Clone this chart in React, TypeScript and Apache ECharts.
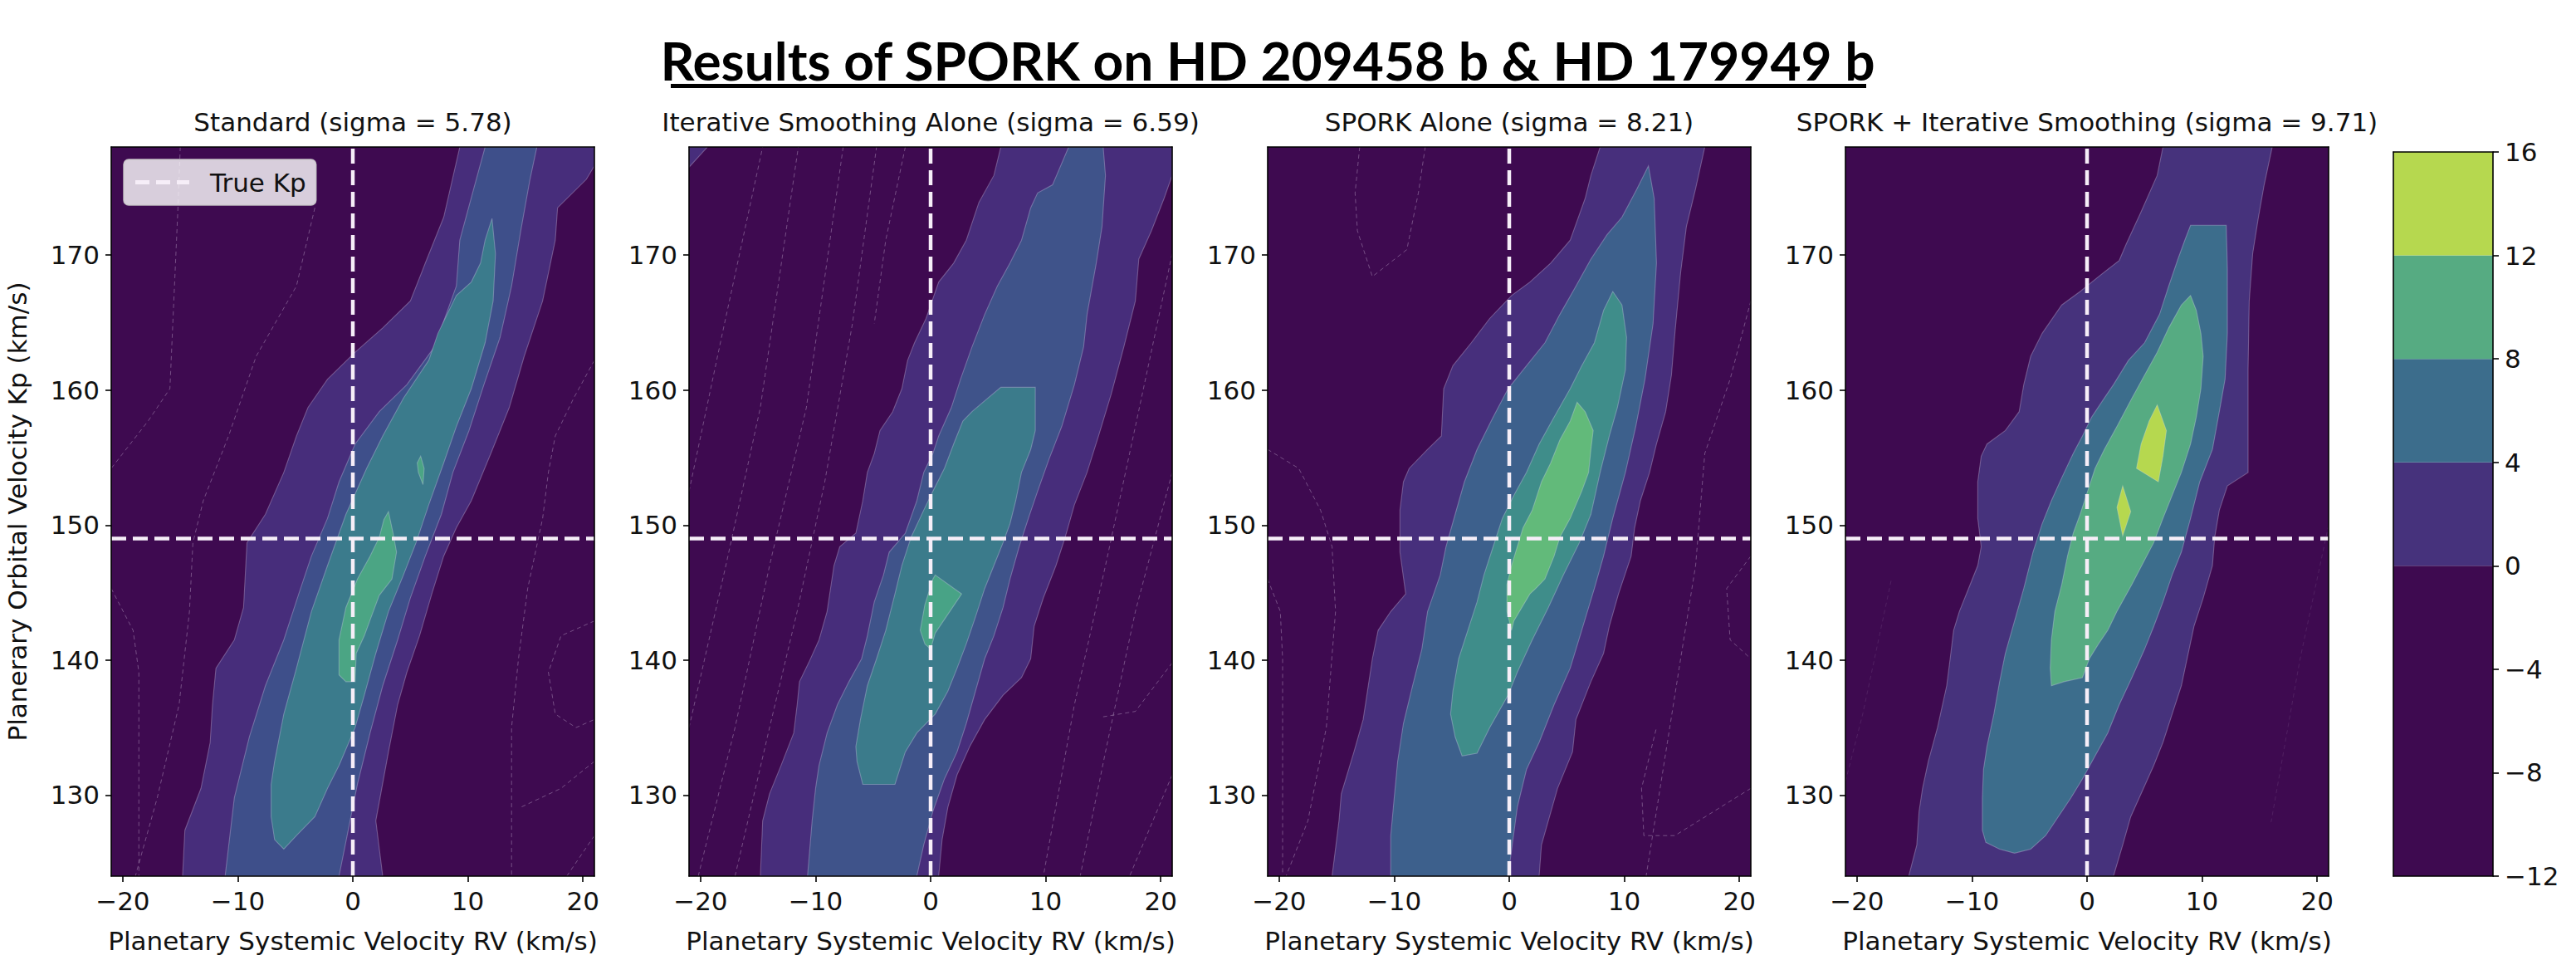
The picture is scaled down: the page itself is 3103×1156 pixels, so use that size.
import React, { useEffect, useRef } from "react";
import * as echarts from "echarts";

// ---------- axes / reference values ----------
const rvRange = [-21, 21];
const kpRange = [124, 178];
const rvTicks = [-20, -10, 0, 10, 20];
const kpTicks = [130, 140, 150, 160, 170];
const trueRV = 0;
const trueKp = 149;
const colorbarLevels = [-12, 0, 4, 8, 12, 16];
const colorbarTicks = [-12, -8, -4, 0, 4, 8, 12, 16];

const mainTitle = "Results of SPORK on HD 209458 b & HD 179949 b";
const panelTitles = [
  "Standard (sigma = 5.78)",
  "Iterative Smoothing Alone (sigma = 6.59)",
  "SPORK Alone (sigma = 8.21)",
  "SPORK + Iterative Smoothing (sigma = 9.71)",
];
const xName = "Planetary Systemic Velocity RV (km/s)";
const yName = "Planerary Orbital Velocity Kp (km/s)";

// ---------- contour regions [RV, Kp] ----------
// Panel 1: Standard
const stdBand0 = [[9.3,178],[7.9,172.8],[6.3,169.4],[5.0,166.6],[2.6,164.6],[0.2,162.8],[-2.2,160.8],[-3.9,158.7],[-4.9,156.6],[-6.0,153.9],[-7.6,150.8],[-9.2,148.7],[-9.5,143.9],[-10.3,141.5],[-11.9,139.4],[-12.2,136.7],[-12.4,133.9],[-13.2,130.5],[-14.6,127.4],[-14.8,124],[2.6,124],[2.0,128.1],[3.1,133.2],[3.9,136.7],[4.7,139.1],[5.8,141.8],[6.9,145.0],[7.9,147.7],[9.0,149.8],[10.3,151.8],[12.0,155.3],[13.6,158.7],[14.9,162.5],[16.5,166.6],[17.6,171.1],[17.8,173.5],[20.3,175.6],[21,176.6],[21,178]];
const stdBand1 = [[11.5,178],[10.6,175.2],[9.3,171.1],[9.0,167.7],[7.1,163.2],[4.7,160.4],[2.3,158.4],[0.2,156.0],[-1.2,153.2],[-2.2,150.5],[-3.6,147.7],[-4.7,144.9],[-6.0,141.5],[-7.6,138.1],[-9.0,134.3],[-10.3,129.8],[-11.1,124],[-1.2,124],[-0.4,127.4],[0.4,130.8],[1.5,134.6],[2.6,138.1],[3.9,141.5],[5.0,144.6],[6.3,147.7],[7.7,150.8],[8.7,153.9],[10.1,157.0],[11.4,160.4],[12.8,163.9],[13.8,167.7],[14.6,171.8],[15.4,175.6],[16.0,178]];
const stdBand2 = [[12.1,172.7],[12.4,170.1],[12.2,166.6],[11.5,163.5],[10.3,160.1],[9.0,157.3],[7.9,154.6],[6.6,151.5],[5.5,148.7],[4.4,146.3],[3.1,143.6],[2.0,140.5],[1.0,137.4],[0.2,135.0],[-1.2,132.2],[-2.2,130.5],[-3.3,128.4],[-4.9,127.0],[-6.0,126.0],[-6.8,126.7],[-7.1,128.4],[-7.1,130.8],[-6.8,132.5],[-6.0,136.0],[-4.9,139.4],[-3.6,143.6],[-2.2,147.0],[-0.6,150.8],[1.2,154.2],[2.6,156.6],[4.4,159.4],[6.6,162.2],[7.4,164.2],[9.0,167.0],[10.3,168.0],[11.1,169.4],[11.5,171.1]];
const stdBand3a = [[5.9,155.1],[6.2,154.2],[6.1,153.0],[5.7,153.9],[5.6,154.6]];
const stdBand3b = [[3.1,151.0],[3.5,149.4],[3.8,148.0],[3.4,146.0],[2.3,144.8],[1.6,143.2],[1.0,141.8],[0.3,140.5],[0.2,138.4],[-0.6,138.4],[-1.2,138.9],[-1.2,141.5],[-0.6,143.9],[0.4,146.0],[1.5,147.7],[2.3,149.1],[2.7,150.4]];
const stdNegLines = [
  [[-15.0,178],[-15.2,173.5],[-15.9,160.1],[-17.8,157.7],[-21,154.2]],
  [[-3.3,173.5],[-4.9,167.7],[-8.4,162.5],[-10.8,156.6],[-13.0,151.8],[-13.9,148.7],[-14.2,143.6],[-15.1,136.7],[-17.0,129.8],[-18.9,124]],
  [[-21,145.3],[-19.1,142.2],[-18.6,139.1],[-18.6,124]],
  [[21,162.2],[19.2,159.4],[17.6,156.6],[17.0,153.9],[16.5,150.5],[15.2,145.3],[14.4,140.1],[13.8,135.0],[13.8,124]],
  [[21,142.9],[18.1,141.8],[17.0,139.1],[17.6,136.0],[19.4,135.0],[21,135.6]],
  [[21,132.5],[18.1,130.5],[14.6,129.1]],
  [[21,127.0],[18.6,124]],
];

// Panel 2: Iterative Smoothing Alone
const iterBand0Corner = [[-21,178],[-19.4,178],[-21,176.5]];
const iterBand0 = [[6.1,178],[5.5,175.9],[4.2,173.9],[3.1,171.1],[2.0,169.4],[0.7,168.0],[-0.4,165.3],[-1.4,163.5],[-2.0,162.2],[-2.5,160.1],[-3.3,158.4],[-4.4,157.0],[-4.9,155.3],[-5.5,153.9],[-5.9,151.8],[-6.5,149.4],[-7.9,148.4],[-8.4,147.0],[-9.0,143.6],[-9.7,141.5],[-10.6,139.8],[-11.4,138.4],[-11.6,136.7],[-11.9,134.6],[-13.0,132.2],[-14.0,130.1],[-14.6,128.1],[-14.8,124],[0.7,124],[1.0,126.7],[1.5,129.1],[2.3,131.5],[3.4,133.6],[4.7,135.6],[6.3,137.4],[7.9,138.7],[8.7,140.1],[9.0,142.5],[9.8,144.6],[10.9,147.0],[11.7,149.1],[12.5,151.5],[13.6,153.9],[14.6,156.6],[15.7,159.7],[16.8,163.2],[17.8,166.6],[18.1,169.7],[19.2,171.8],[20.3,174.2],[21,175.9],[21,178]];
const iterBand1 = [[12.0,178],[10.6,175.2],[9.3,174.6],[8.7,173.5],[7.9,171.1],[6.9,169.4],[5.8,167.7],[4.7,165.6],[3.6,163.2],[2.6,160.8],[1.8,158.7],[0.7,156.6],[0.2,155.3],[-0.6,153.9],[-1.2,151.8],[-2.2,149.4],[-3.6,148.0],[-4.1,146.3],[-4.9,144.3],[-5.5,141.8],[-6.0,140.1],[-7.1,138.4],[-8.1,136.7],[-9.0,134.6],[-9.7,132.2],[-10.0,130.5],[-10.3,128.1],[-10.7,124],[-1.2,124],[-0.6,126.3],[0.2,128.8],[1.2,131.2],[2.3,133.2],[3.1,135.3],[3.9,137.7],[4.7,140.1],[5.5,141.8],[6.3,143.9],[6.9,146.0],[7.7,148.4],[8.5,150.5],[9.3,152.5],[10.3,154.9],[11.4,157.3],[12.5,160.4],[13.3,163.2],[13.6,165.6],[14.4,169.4],[14.9,172.1],[15.2,175.9],[15.0,178]];
const iterBand2 = [[6.1,160.2],[9.1,160.2],[9.1,157.0],[8.7,155.6],[7.9,153.9],[7.4,151.8],[6.9,150.1],[6.3,148.7],[5.5,147.0],[4.7,145.3],[3.9,143.2],[3.1,141.2],[2.3,139.4],[1.5,137.7],[0.4,136.0],[-1.2,134.6],[-2.2,133.2],[-3.1,130.8],[-5.9,130.8],[-6.4,132.5],[-6.5,133.6],[-6.1,135.6],[-5.5,138.1],[-4.7,140.1],[-3.9,142.2],[-3.1,144.9],[-2.5,147.0],[-1.7,149.1],[-0.6,151.1],[0.2,152.5],[1.2,154.2],[2.0,156.0],[2.8,157.7],[3.6,158.4],[4.7,159.2]];
const iterBand3 = [[0.4,146.3],[2.7,144.9],[0.4,142.0],[0.0,140.8],[-0.5,141.2],[-0.9,142.2],[-0.5,144.1],[0.2,146.0]];
const iterNegLines = [
  [[-21,152.5],[-18.1,164.2],[-14.6,178]],
  [[-21,135.0],[-17.8,147.0],[-14.8,158.7],[-11.5,178]],
  [[-20.2,124],[-17.0,135.0],[-14.0,147.0],[-10.8,158.7],[-7.6,178]],
  [[-17.0,124],[-14.0,135.0],[-11.6,143.6],[-9.2,153.2],[-6.8,164.9],[-4.7,178]],
  [[-2.2,178],[-3.9,171.1],[-4.9,164.9]],
  [[21,170.1],[17.8,157.3],[15.2,147.0],[12.5,136.7],[9.8,124]],
  [[21,153.9],[17.8,143.6],[15.2,133.2],[13.0,124]],
  [[21,139.8],[17.8,136.2],[15.0,135.8]],
  [[21,131.5],[17.3,124]],
];

// Panel 3: SPORK Alone
const sporkBand0 = [[7.9,178],[7.1,175.9],[6.6,174.2],[5.3,171.1],[3.6,169.4],[1.8,168.0],[0.2,167.0],[-1.7,165.3],[-3.3,163.5],[-4.9,161.8],[-5.7,160.1],[-5.9,156.6],[-7.1,155.6],[-8.7,154.2],[-9.2,153.2],[-9.5,151.1],[-9.5,148.0],[-9.0,144.9],[-10.3,143.6],[-11.4,142.2],[-11.9,140.1],[-12.2,138.4],[-12.7,135.6],[-13.5,133.2],[-14.6,130.1],[-14.8,128.1],[-15.4,124],[2.6,124],[2.8,126.3],[4.2,130.5],[5.5,133.2],[5.8,135.6],[7.1,138.4],[8.2,140.5],[8.7,142.5],[9.5,144.9],[10.6,147.7],[10.9,149.8],[11.4,151.8],[12.2,153.9],[12.8,156.0],[13.6,158.4],[14.1,161.1],[14.4,164.2],[14.9,168.7],[15.4,172.1],[16.2,174.9],[17.0,178]];
const sporkBand1 = [[12.1,176.6],[12.6,174.2],[12.8,169.4],[12.5,164.9],[11.8,160.8],[11.0,157.3],[10.1,153.9],[9.0,150.5],[8.2,147.7],[7.4,145.3],[6.3,142.2],[5.3,139.4],[3.9,136.7],[2.6,133.9],[1.5,131.9],[0.7,129.1],[-0.1,124],[-10.3,124],[-10.3,127.0],[-10.0,129.8],[-9.7,132.5],[-9.2,135.3],[-8.4,138.1],[-7.6,140.8],[-7.1,143.6],[-6.0,146.3],[-5.5,148.4],[-4.7,150.8],[-3.9,153.2],[-2.8,155.6],[-1.4,158.0],[-0.1,160.1],[1.5,161.8],[3.1,163.5],[4.4,165.6],[5.8,167.7],[7.1,169.7],[8.5,171.5],[9.8,172.8],[11.1,174.9]];
const sporkBand2 = [[9.0,167.3],[9.8,166.3],[10.2,163.9],[10.1,161.5],[9.4,158.7],[8.7,156.6],[7.9,153.9],[7.1,150.8],[6.1,148.7],[4.7,146.3],[3.4,143.9],[2.0,141.5],[0.7,139.1],[-0.1,137.4],[-1.7,135.0],[-2.8,133.1],[-4.1,132.9],[-4.7,134.3],[-5.1,136.0],[-4.9,137.7],[-4.4,140.1],[-3.6,142.2],[-2.8,144.3],[-2.2,146.3],[-1.4,148.4],[-0.6,150.5],[0.4,152.2],[1.5,153.9],[2.6,156.0],[3.9,158.0],[5.3,160.1],[6.3,161.8],[7.4,163.5],[8.2,165.9]];
const sporkBand3 = [[5.9,159.1],[6.6,158.4],[7.3,157.0],[7.1,155.6],[6.9,153.9],[6.3,152.5],[5.3,150.5],[4.4,149.1],[3.9,147.7],[3.1,146.0],[2.3,145.3],[1.8,144.9],[0.4,142.9],[0.2,142.2],[-0.2,143.6],[-0.2,145.6],[0.2,147.0],[0.7,148.4],[1.2,149.8],[2.0,151.1],[2.8,153.2],[3.6,154.6],[4.4,156.3],[5.3,157.7]];
const sporkNegLines = [
  [[-13.0,178],[-13.4,174.6],[-13.2,171.8],[-11.9,168.4],[-8.9,170.4],[-7.9,174.6],[-7.3,178]],
  [[-21,155.6],[-18.3,154.2],[-16.4,151.1],[-15.4,148.4],[-15.1,143.6],[-15.9,135.0],[-17.5,128.1],[-19.4,124]],
  [[-21,146.0],[-19.9,143.6],[-19.7,140.1],[-19.7,124]],
  [[21,166.6],[19.2,160.8],[17.0,155.3],[16.2,147.0],[14.9,140.1],[13.3,131.5],[11.9,124]],
  [[21,147.7],[18.9,145.3],[19.2,141.5],[21,140.1]],
  [[21,130.5],[14.4,127.0],[11.7,127.0],[11.5,130.5],[12.8,135.0]],
];

// Panel 4: SPORK + Iterative Smoothing
const bothBand0 = [[6.6,178],[6.1,175.9],[4.7,173.2],[3.4,170.8],[2.8,169.6],[1.0,168.4],[-0.6,167.3],[-2.2,166.3],[-3.9,164.2],[-4.9,162.5],[-5.5,160.4],[-5.9,158.4],[-7.1,157.0],[-8.7,156.0],[-9.2,155.1],[-9.5,153.2],[-9.5,150.5],[-9.2,148.4],[-9.5,147.0],[-10.3,145.3],[-11.1,143.6],[-11.6,142.2],[-11.9,140.1],[-12.2,138.1],[-13.0,135.0],[-13.8,132.5],[-14.3,130.5],[-14.6,128.8],[-14.8,126.3],[-15.5,124],[2.3,124],[3.1,126.3],[3.8,128.4],[4.7,130.1],[5.8,132.2],[6.6,133.9],[7.4,136.0],[8.2,138.1],[8.7,140.1],[9.3,142.5],[10.1,144.6],[10.9,147.0],[11.1,149.1],[11.5,151.1],[12.2,152.9],[14.0,153.9],[14.0,157.3],[14.0,161.5],[14.1,166.6],[14.4,170.1],[14.9,172.8],[15.4,175.2],[16.1,178]];
const bothBand1 = [[9.0,172.2],[12.1,172.2],[12.2,169.0],[12.2,164.2],[12.0,160.8],[11.5,158.4],[10.9,155.6],[9.8,153.2],[9.0,150.5],[8.2,148.0],[7.4,146.3],[6.6,144.3],[5.8,142.5],[5.0,140.8],[3.9,138.7],[2.8,136.7],[1.8,134.6],[0.7,132.9],[-0.4,131.2],[-1.4,129.8],[-2.5,128.4],[-3.6,127.0],[-4.9,126.0],[-6.3,125.7],[-7.6,126.0],[-8.8,126.5],[-9.1,127.4],[-9.1,129.8],[-9.0,131.9],[-8.7,133.6],[-8.1,136.0],[-7.6,138.4],[-7.1,140.5],[-6.3,142.9],[-5.5,145.3],[-4.7,148.0],[-3.9,150.1],[-3.1,151.8],[-2.2,153.5],[-1.2,155.3],[-0.4,156.6],[0.4,158.0],[1.5,159.4],[2.3,160.4],[3.6,162.2],[5.0,163.5],[6.3,165.6],[7.1,167.7],[7.9,169.7],[8.5,171.1]];
const bothBand2 = [[9.0,167.0],[9.5,165.9],[9.9,164.2],[10.1,162.5],[9.9,160.1],[9.5,158.0],[9.0,156.0],[8.2,153.9],[7.4,152.2],[6.6,150.5],[5.8,148.7],[5.0,147.4],[3.9,145.6],[2.6,143.6],[1.8,142.2],[1.0,141.2],[0.2,140.1],[-0.4,138.7],[-2.0,138.4],[-3.1,138.1],[-3.2,139.4],[-3.1,141.5],[-2.8,143.6],[-2.2,145.6],[-1.7,147.7],[-1.2,149.4],[-0.6,150.8],[0.2,152.9],[0.7,154.2],[1.5,155.6],[2.6,157.3],[3.9,159.4],[5.0,161.1],[6.1,162.8],[7.1,164.6],[8.2,166.3]];
const bothBand3a = [[6.1,158.9],[6.9,157.0],[6.6,155.1],[6.2,153.2],[4.3,154.2],[4.7,156.0],[5.4,157.7]];
const bothBand3b = [[3.1,152.9],[3.8,151.0],[3.1,149.2],[2.6,151.3]];
const bothNegLines = [
  [[-21,131.0],[-19.5,136.0],[-17.0,146.0]],
  [[21,150.0],[18.5,140.0],[16.0,128.0]],
];

// ---------- styling ----------
const darkColor = "#3e0a50";
const panelColors = [
  ["#472d7b", "#3e4f8a", "#3b7b8c", "#4ba584"],
  ["#472d7b", "#3f538a", "#3b7b8b", "#48a386"],
  ["#472f7c", "#3d608c", "#3f8d8a", "#62ba7a"],
  ["#46327c", "#3c6d8c", "#56ab82", "#b6d84f"],
];
const colorbarColors = [darkColor, "#46327c", "#3c6d8c", "#56ab82", "#b6d84f"];
const dashColor = "#f6eef8";

const panels = [
  { regions: [[0, stdBand0], [1, stdBand1], [2, stdBand2], [3, stdBand3a], [3, stdBand3b]], lines: stdNegLines },
  { regions: [[0, iterBand0Corner], [0, iterBand0], [1, iterBand1], [2, iterBand2], [3, iterBand3]], lines: iterNegLines },
  { regions: [[0, sporkBand0], [1, sporkBand1], [2, sporkBand2], [3, sporkBand3]], lines: sporkNegLines },
  { regions: [[0, bothBand0], [1, bothBand1], [2, bothBand2], [3, bothBand3a], [3, bothBand3b]], lines: bothNegLines },
];

const gridLefts = [134, 830, 1527, 2223];
const gridTop = 177;
const gridW = 582;
const gridH = 878;
const FONT = "DejaVu Sans";
const TXT = "#111111";
const fmt = (v: number) => (v < 0 ? "\u2212" + Math.abs(v) : String(v));

export default function App() {
  const ref = useRef<HTMLDivElement>(null);
  useEffect(() => {
    if (!ref.current) return;
    const chart = echarts.init(ref.current, null, { renderer: "svg" });

    const grids: any[] = [];
    const xAxes: any[] = [];
    const yAxes: any[] = [];
    const series: any[] = [];
    const titles: any[] = [
      {
        text: mainTitle,
        left: 1527,
        top: 40,
        textAlign: "center",
        padding: 0,
        textStyle: { fontFamily: "Lato", fontWeight: "bold", fontSize: 64, color: "#000" },
      },
    ];
    const frameLine = { show: true, onZero: false, lineStyle: { color: "#000", width: 1.6 } };

    panels.forEach((p, i) => {
      grids.push({
        left: gridLefts[i], top: gridTop, width: gridW, height: gridH,
        show: true, backgroundColor: darkColor, borderWidth: 0,
      });
      titles.push({
        text: panelTitles[i],
        left: gridLefts[i] + gridW / 2,
        top: 131,
        textAlign: "center",
        padding: 0,
        textStyle: { fontFamily: FONT, fontWeight: "normal", fontSize: 31, color: TXT },
      });
      xAxes.push({
        type: "value", gridIndex: i, position: "bottom", min: rvRange[0], max: rvRange[1], z: 10,
        splitLine: { show: false },
        axisLine: frameLine,
        axisTick: { show: true, length: 7, lineStyle: { color: "#000", width: 1.6 }, customValues: rvTicks },
        axisLabel: { customValues: rvTicks, formatter: fmt, fontSize: 31, fontFamily: FONT, color: TXT, margin: 14 },
        name: xName, nameLocation: "middle", nameGap: 62,
        nameTextStyle: { fontSize: 31, fontFamily: FONT, color: TXT },
      });
      xAxes.push({
        type: "value", gridIndex: i, position: "top", min: rvRange[0], max: rvRange[1], z: 10,
        splitLine: { show: false }, axisLine: frameLine, axisTick: { show: false }, axisLabel: { show: false },
      });
      yAxes.push({
        type: "value", gridIndex: i, position: "left", min: kpRange[0], max: kpRange[1], z: 10,
        splitLine: { show: false },
        axisLine: frameLine,
        axisTick: { show: true, length: 7, lineStyle: { color: "#000", width: 1.6 }, customValues: kpTicks },
        axisLabel: { customValues: kpTicks, formatter: fmt, fontSize: 31, fontFamily: FONT, color: TXT, margin: 14 },
        ...(i === 0
          ? {
              name: yName, nameLocation: "middle", nameGap: 98, nameRotate: 90,
              nameTextStyle: { fontSize: 31, fontFamily: FONT, color: TXT },
            }
          : {}),
      });
      yAxes.push({
        type: "value", gridIndex: i, position: "right", min: kpRange[0], max: kpRange[1], z: 10,
        splitLine: { show: false }, axisLine: frameLine, axisTick: { show: false }, axisLabel: { show: false },
      });

      const colors = panelColors[i];
      const regions = p.regions;
      series.push({
        type: "custom",
        coordinateSystem: "cartesian2d",
        xAxisIndex: i * 2, yAxisIndex: i * 2,
        clip: true, silent: true, z: 2,
        data: regions.map((r: any) => [r[1][0][0], r[1][0][1]]),
        renderItem: (params: any, api: any) => {
          const r: any = regions[params.dataIndex];
          const pts = r[1].map((pt: number[]) => api.coord(pt));
          return {
            type: "polygon",
            shape: { points: pts },
            style: { fill: colors[r[0]], stroke: "rgba(235,225,245,0.30)", lineWidth: 1.1 },
          };
        },
      });
      const lines = p.lines;
      series.push({
        type: "custom",
        coordinateSystem: "cartesian2d",
        xAxisIndex: i * 2, yAxisIndex: i * 2,
        clip: true, silent: true, z: 3,
        data: lines.map((l: any) => [l[0][0], l[0][1]]),
        renderItem: (params: any, api: any) => {
          const pts = lines[params.dataIndex].map((pt: number[]) => api.coord(pt));
          return {
            type: "polyline",
            shape: { points: pts },
            style: { fill: null, stroke: i === 3 ? "rgba(235,225,245,0.10)" : "rgba(235,225,245,0.32)", lineWidth: 1, lineDash: [5, 4] },
          };
        },
      });
      const dashStyle = { color: dashColor, width: 4.5, type: [18, 8] };
      series.push({
        name: "True Kp", type: "line", xAxisIndex: i * 2, yAxisIndex: i * 2,
        data: [[rvRange[0], trueKp], [rvRange[1], trueKp]],
        symbol: "none", showSymbol: false, lineStyle: dashStyle, itemStyle: { color: dashColor },
        z: 5, silent: true,
      });
      series.push({
        name: "True RV", type: "line", xAxisIndex: i * 2, yAxisIndex: i * 2,
        data: [[trueRV, kpRange[0]], [trueRV, kpRange[1]]],
        symbol: "none", lineStyle: dashStyle, itemStyle: { color: dashColor }, z: 5, silent: true,
      });
    });

    // colorbar
    const cb = 4;
    grids.push({ left: 2883, top: 183, width: 120, height: 872, show: false });
    xAxes.push({
      type: "value", gridIndex: cb, position: "bottom", min: 0, max: 1, z: 10,
      splitLine: { show: false }, axisLine: frameLine, axisTick: { show: false }, axisLabel: { show: false },
    });
    xAxes.push({
      type: "value", gridIndex: cb, position: "top", min: 0, max: 1, z: 10,
      splitLine: { show: false }, axisLine: frameLine, axisTick: { show: false }, axisLabel: { show: false },
    });
    yAxes.push({
      type: "value", gridIndex: cb, position: "right", min: colorbarLevels[0],
      max: colorbarLevels[colorbarLevels.length - 1], z: 10,
      splitLine: { show: false }, axisLine: frameLine,
      axisTick: { show: true, length: 7, lineStyle: { color: "#000", width: 1.6 }, customValues: colorbarTicks },
      axisLabel: { customValues: colorbarTicks, formatter: fmt, fontSize: 31, fontFamily: FONT, color: TXT, margin: 14 },
    });
    yAxes.push({
      type: "value", gridIndex: cb, position: "left", min: colorbarLevels[0],
      max: colorbarLevels[colorbarLevels.length - 1], z: 10,
      splitLine: { show: false }, axisLine: frameLine, axisTick: { show: false }, axisLabel: { show: false },
    });
    const cbData = colorbarLevels.slice(0, -1).map((lo, k) => [0, lo, colorbarLevels[k + 1], k]);
    series.push({
      type: "custom", coordinateSystem: "cartesian2d", xAxisIndex: 8, yAxisIndex: 8,
      silent: true, z: 2,
      data: cbData,
      encode: { x: 0, y: 1 },
      renderItem: (params: any, api: any) => {
        const a = api.coord([0, api.value(2)]);
        const b = api.coord([1, api.value(1)]);
        return {
          type: "rect",
          shape: { x: a[0], y: a[1], width: b[0] - a[0], height: b[1] - a[1] },
          style: { fill: colorbarColors[api.value(3)] },
        };
      },
    });

    chart.setOption({
      animation: false,
      backgroundColor: "#ffffff",
      title: titles,
      legend: {
        data: [{ name: "True Kp", icon: "path://M0,0H17V5H0Z M25,0H42V5H25Z M50,0H65V5H50Z", itemStyle: { color: dashColor } }],
        left: 149, top: 192,
        backgroundColor: "rgba(255,255,255,0.8)",
        borderColor: "rgba(204,204,204,0.9)", borderWidth: 1.5, borderRadius: 6,
        padding: [12, 12, 12, 14],
        itemWidth: 65, itemHeight: 5,
        textStyle: { fontSize: 31, fontFamily: FONT, color: TXT, padding: [0, 0, 0, 20] },
        z: 20,
        selectedMode: false,
      },
      graphic: [
        {
          type: "rect",
          shape: { x: 808, y: 101, width: 1440, height: 5 },
          style: { fill: "#000" },
          silent: true,
        },
      ],
      grid: grids,
      xAxis: xAxes,
      yAxis: yAxes,
      series,
    });
    return () => chart.dispose();
  }, []);
  return <div ref={ref} style={{ position: "absolute", left: 0, top: 0, width: 3103, height: 1156 }} />;
}
